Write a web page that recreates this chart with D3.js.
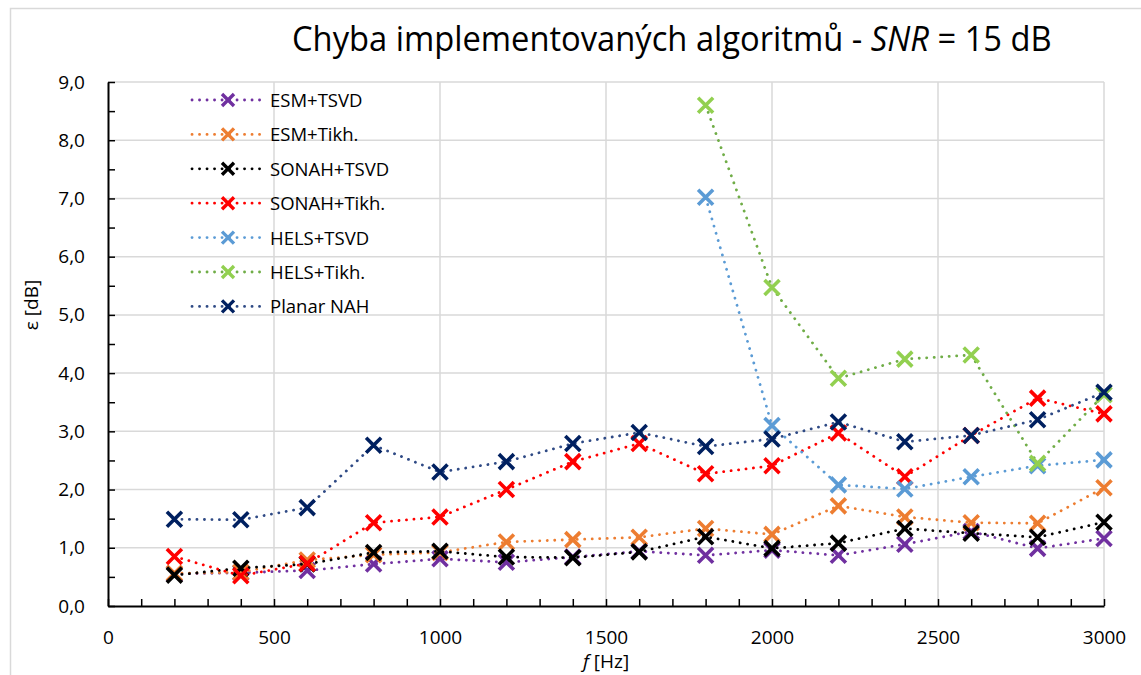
<!DOCTYPE html>
<html lang="cs">
<head>
<meta charset="UTF-8">
<title>Chyba implementovaných algoritmů - SNR = 15 dB</title>
<script src="https://d3js.org/d3.v7.min.js"></script>
<style>
  body { margin: 0; background: #fff; }
  svg { display: block; font-family: "Open Sans", "Liberation Sans", sans-serif; }
  .grid line { stroke: #d9d9d9; stroke-width: 1.5; }
  .tick text { font-size: 19px; fill: #000; font-family: "Open Sans", sans-serif; }
  .domain { stroke: #000; stroke-width: 2; }
  .minor line { stroke: #000; stroke-width: 1.5; }
</style>
</head>
<body>
<svg id="chart" width="1141" height="675"></svg>
<script>
// frequencies [Hz]
const freqs = [200, 400, 600, 800, 1000, 1200, 1400, 1600, 1800, 2000, 2200, 2400, 2600, 2800, 3000];

// error [dB] per algorithm
const esmTsvd   = [0.55, 0.57, 0.61, 0.72, 0.81, 0.75, 0.84, 0.94, 0.87, 0.96, 0.87, 1.06, 1.28, 0.99, 1.16];
const esmTikh   = [0.56, 0.58, 0.79, 0.88, 0.92, 1.10, 1.14, 1.18, 1.33, 1.23, 1.72, 1.53, 1.43, 1.42, 2.03];
const sonahTsvd = [0.53, 0.65, 0.72, 0.92, 0.94, 0.84, 0.83, 0.93, 1.19, 0.99, 1.08, 1.33, 1.25, 1.18, 1.44];
const sonahTikh = [0.85, 0.52, 0.73, 1.43, 1.53, 2.00, 2.48, 2.79, 2.27, 2.41, 2.97, 2.22, 2.93, 3.57, 3.30];
const helsTsvd  = [null, null, null, null, null, null, null, null, 7.02, 3.10, 2.08, 2.01, 2.22, 2.41, 2.51];
const helsTikh  = [null, null, null, null, null, null, null, null, 8.60, 5.47, 3.91, 4.24, 4.31, 2.45, 3.63];
const planarNah = [1.49, 1.48, 1.69, 2.76, 2.30, 2.48, 2.79, 2.98, 2.74, 2.87, 3.16, 2.82, 2.93, 3.20, 3.67];

const seriesNames = ["ESM+TSVD", "ESM+Tikh.", "SONAH+TSVD", "SONAH+Tikh.", "HELS+TSVD", "HELS+Tikh.", "Planar NAH"];
const seriesValues = [esmTsvd, esmTikh, sonahTsvd, sonahTikh, helsTsvd, helsTikh, planarNah];
const lineColors   = ["#7030a0", "#ed7d31", "#000000", "#ff0000", "#5b9bd5", "#70ad47", "#2f4a85"];
const markerColors = ["#7030a0", "#ed7d31", "#000000", "#ff0000", "#5b9bd5", "#92d050", "#002060"];

const xTicks = [0, 500, 1000, 1500, 2000, 2500, 3000];
const yTicks = [0, 1, 2, 3, 4, 5, 6, 7, 8, 9];

const svg = d3.select("#chart");

const x = d3.scaleLinear().domain([0, 3000]).range([108, 1104]);
const y = d3.scaleLinear().domain([0, 9]).range([606, 82]);

// chart area border (only left and top edges fall inside the picture)
svg.append("rect")
    .attr("x", 10.5).attr("y", 8.5)
    .attr("width", 1300).attr("height", 800)
    .attr("fill", "none")
    .attr("stroke", "#d9d9d9")
    .attr("stroke-width", 1.5);

// gridlines
const grid = svg.append("g").attr("class", "grid");
grid.selectAll(".h")
    .data(yTicks.filter(d => d > 0))
    .join("line")
    .attr("x1", x(0)).attr("x2", x(3000))
    .attr("y1", d => y(d)).attr("y2", d => y(d));
grid.selectAll(".v")
    .data(xTicks.filter(d => d > 0))
    .join("line")
    .attr("x1", d => x(d)).attr("x2", d => x(d))
    .attr("y1", y(0)).attr("y2", y(9));

// x axis: minor ticks pointing inward, labels below
svg.append("g")
    .attr("class", "minor")
    .attr("transform", `translate(0,${y(0)})`)
    .call(d3.axisTop(x).tickValues(d3.range(0, 3001, 100)).tickSize(7).tickSizeOuter(0).tickFormat(""))
    .call(g => g.select(".domain").remove());
svg.append("g")
    .attr("transform", `translate(0,${y(0)})`)
    .call(d3.axisBottom(x).tickValues(xTicks).tickSize(0).tickSizeOuter(0).tickPadding(25).tickFormat(d3.format("d")));

// y axis
svg.append("g")
    .attr("class", "minor")
    .attr("transform", `translate(${x(0)},0)`)
    .call(d3.axisRight(y).tickValues(d3.range(0, 9.01, 0.5)).tickSize(7).tickSizeOuter(0).tickFormat(""))
    .call(g => g.select(".domain").remove());
svg.append("g")
    .attr("transform", `translate(${x(0)},0)`)
    .call(d3.axisLeft(y).tickValues(yTicks).tickSize(0).tickSizeOuter(0).tickPadding(23)
        .tickFormat(d => d.toFixed(1).replace(".", ",")));

// axis titles
svg.append("text")
    .attr("transform", "translate(38,305) rotate(-90)")
    .attr("text-anchor", "middle")
    .attr("font-size", 19)
    .text("ε [dB]");

const xTitle = svg.append("text")
    .attr("x", 606).attr("y", 668)
    .attr("text-anchor", "middle")
    .attr("font-size", 19);
xTitle.append("tspan").attr("font-style", "italic").text("f");
xTitle.append("tspan").text(" [Hz]");

// chart title, squeezed to the reference width
const title = svg.append("text")
    .attr("font-size", 34)
    .attr("fill", "#000");
title.append("tspan").text("Chyba implementovaných algoritmů - ");
title.append("tspan").attr("font-style", "italic").text("SNR");
title.append("tspan").text(" = 15 dB");
const tw = title.node().getComputedTextLength();
title.attr("transform", `translate(292,51) scale(${760 / tw},1)`);

// series
const cross = s => `M${-s},${-s}L${s},${s}M${-s},${s}L${s},${-s}`;
const line = d3.line()
    .defined(d => d.v != null)
    .x(d => x(d.f))
    .y(d => y(d.v));

seriesValues.forEach((vals, i) => {
    const pts = freqs.map((f, j) => ({ f: f, v: vals[j] }));
    const g = svg.append("g");
    g.append("path")
        .datum(pts)
        .attr("d", line)
        .attr("fill", "none")
        .attr("stroke", lineColors[i])
        .attr("stroke-width", 2.8)
        .attr("stroke-linecap", "round")
        .attr("stroke-dasharray", "0.1 7.4");
    g.selectAll("path.m")
        .data(pts.filter(d => d.v != null))
        .join("path")
        .attr("class", "m")
        .attr("transform", d => `translate(${x(d.f)},${y(d.v)})`)
        .attr("d", cross(7.5))
        .attr("fill", "none")
        .attr("stroke", markerColors[i])
        .attr("stroke-width", 3.6);
});

// legend
const legend = svg.append("g");
seriesNames.forEach((name, i) => {
    const ly = 100 + i * 34.4;
    legend.append("line")
        .attr("x1", 192).attr("x2", 262)
        .attr("y1", ly).attr("y2", ly)
        .attr("stroke", lineColors[i])
        .attr("stroke-width", 2.8)
        .attr("stroke-linecap", "round")
        .attr("stroke-dasharray", "0.1 7.4");
    legend.append("path")
        .attr("transform", `translate(228,${ly})`)
        .attr("d", cross(6))
        .attr("fill", "none")
        .attr("stroke", markerColors[i])
        .attr("stroke-width", 3.4);
    legend.append("text")
        .attr("x", 270).attr("y", ly + 7)
        .attr("font-size", 18.5)
        .text(name);
});
</script>
</body>
</html>
